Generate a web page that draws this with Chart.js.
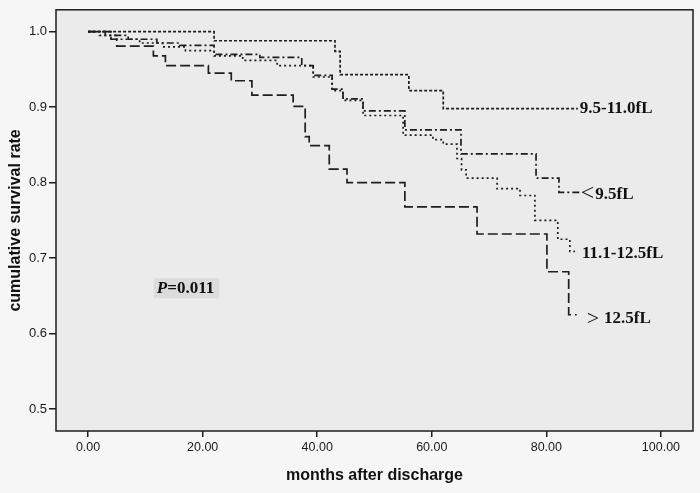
<!DOCTYPE html>
<html>
<head>
<meta charset="utf-8">
<script src="https://cdn.jsdelivr.net/npm/chart.js@4.4.1/dist/chart.umd.min.js"></script>
<style>
  html, body { margin: 0; padding: 0; background: #f6f6f6; }
  canvas { display: block; }
</style>
</head>
<body>
<canvas id="kmChart" width="700" height="493"></canvas>
<script>
/* ── Axis ticks ── */
const X_TICKS = [0, 20, 40, 60, 80, 100];
const Y_TICKS = [0.5, 0.6, 0.7, 0.8, 0.9, 1.0];

/* ── Groups (MCV) ── */
const GROUPS = ["9.5-11.0fL", "<9.5fL", "11.1-12.5fL", "> 12.5fL"];

/* ── Kaplan-Meier steps: months / cumulative survival ── */
const T_MID = [0, 22, 43.1, 44, 56, 62, 85.5];
const S_MID = [1.0, 0.988, 0.974, 0.943, 0.922, 0.898, 0.898];

const T_LOW = [0, 3, 7, 12, 16, 22, 30, 37.3, 39.3, 42.6, 44.5, 48, 55.3, 65.1, 78.2, 82.2, 86];
const S_LOW = [1.0, 0.995, 0.99, 0.985, 0.982, 0.97, 0.966, 0.955, 0.942, 0.924, 0.911, 0.895, 0.87, 0.838, 0.806, 0.787, 0.787];

const T_HIGH = [0, 2, 5, 9, 13, 17, 22, 27, 33, 39.3, 42.6, 44.5, 48, 55, 60.2, 62, 64.4, 65.2, 66, 71.4, 75.4, 78, 82, 84.1, 85];
const S_HIGH = [1.0, 0.995, 0.99, 0.985, 0.98, 0.975, 0.968, 0.962, 0.955, 0.94, 0.922, 0.909, 0.889, 0.863, 0.857, 0.851, 0.832, 0.817, 0.806, 0.792, 0.783, 0.75, 0.725, 0.709, 0.709];

const T_TOP = [0, 4, 5, 11.4, 13.5, 21, 25, 28.6, 35.8, 37.9, 38.6, 42.1, 45.2, 55.3, 67.9, 80.1, 83.9, 85.3];
const S_TOP = [1.0, 0.99, 0.981, 0.968, 0.955, 0.945, 0.935, 0.916, 0.901, 0.861, 0.849, 0.818, 0.8, 0.768, 0.732, 0.682, 0.625, 0.625];

const P_TEXT = "=0.011";

const INK = "#1e1e1e";
const SANS = "'Liberation Sans', Arial, sans-serif";
const SERIF = "'Liberation Serif', 'Times New Roman', serif";

const pts = (t, s) => t.map((v, i) => ({ x: v, y: s[i] }));

const series = [
  { t: T_MID, s: S_MID, dash: [3, 2] },
  { t: T_LOW, s: S_LOW, dash: [7, 3, 2, 3] },
  { t: T_HIGH, s: S_HIGH, dash: [2, 3] },
  { t: T_TOP, s: S_TOP, dash: [10, 4] },
];

/* ── Frame, curve labels, P value ── */
const kmDecor = {
  id: "kmDecor",
  beforeDraw(chart) {
    const { ctx, chartArea: a } = chart;
    ctx.save();
    ctx.fillStyle = "#f6f6f6";
    ctx.fillRect(0, 0, chart.width, chart.height);
    ctx.fillStyle = "#ebebeb";
    ctx.fillRect(a.left, a.top, a.right - a.left, a.bottom - a.top);
    ctx.restore();
  },
  afterDraw(chart) {
    const { ctx, chartArea: a, scales } = chart;
    const xs = scales.x, ys = scales.y;
    ctx.save();
    ctx.strokeStyle = INK;
    ctx.lineWidth = 1.5;
    ctx.strokeRect(a.left, a.top, a.right - a.left, a.bottom - a.top);

    ctx.fillStyle = "#111";
    ctx.textBaseline = "middle";
    ctx.textAlign = "left";
    const end = (k) => {
      const t = series[k].t, s = series[k].s;
      return { x: xs.getPixelForValue(t[t.length - 1]), y: ys.getPixelForValue(s[s.length - 1]) };
    };
    const BOLD = "bold 17px " + SERIF;

    // 9.5-11.0fL
    let e = end(0);
    ctx.font = BOLD;
    ctx.fillText(GROUPS[0], e.x + 2, e.y);

    // <9.5fL
    e = end(1);
    ctx.font = "24px " + SERIF;
    ctx.fillText(GROUPS[1].charAt(0), e.x, e.y + 1);
    let w = ctx.measureText(GROUPS[1].charAt(0)).width;
    ctx.font = BOLD;
    ctx.fillText(GROUPS[1].slice(1), e.x + w + 1, e.y + 2);

    // 11.1-12.5fL
    e = end(2);
    ctx.fillText(GROUPS[2], e.x + 7, e.y + 2);

    // > 12.5fL
    e = end(3);
    ctx.font = "22px " + SERIF;
    ctx.fillText(GROUPS[3].charAt(0), e.x + 10, e.y + 4);
    w = ctx.measureText(GROUPS[3].charAt(0)).width;
    ctx.font = BOLD;
    ctx.fillText(GROUPS[3].slice(2), e.x + 10 + w + 5, e.y + 4);

    // P value
    const px = xs.getPixelForValue(12), py = ys.getPixelForValue(0.66);
    ctx.font = "bold italic 17px " + SERIF;
    const wp = ctx.measureText("P").width;
    ctx.font = BOLD;
    const wr = ctx.measureText(P_TEXT).width;
    ctx.fillStyle = "#dcdcdc";
    ctx.fillRect(px - 3, py - 10, wp + wr + 8, 20);
    ctx.fillStyle = "#111";
    ctx.font = "bold italic 17px " + SERIF;
    ctx.fillText("P", px, py);
    ctx.font = BOLD;
    ctx.fillText(P_TEXT, px + wp, py);
    ctx.restore();
  },
};

const ctx = document.getElementById("kmChart").getContext("2d");
new Chart(ctx, {
  type: "line",
  data: {
    datasets: series.map((d, i) => ({
      label: GROUPS[i],
      data: pts(d.t, d.s),
      borderColor: INK,
      borderWidth: 1.7,
      borderDash: d.dash,
      stepped: true,
      pointRadius: 0,
      fill: false,
    })),
  },
  options: {
    responsive: false,
    animation: false,
    devicePixelRatio: 1,
    layout: { padding: { top: 7, right: 7, left: 0, bottom: 0 } },
    plugins: { legend: { display: false }, tooltip: { enabled: false } },
    scales: {
      x: {
        type: "linear",
        min: -5.6,
        max: 105.6,
        afterBuildTicks: (s) => { s.ticks = X_TICKS.map((v) => ({ value: v })); },
        afterFit: (s) => { s.height = 62; },
        grid: { drawOnChartArea: false, drawTicks: true, tickLength: 6, color: INK, lineWidth: 1.5 },
        border: { display: false },
        ticks: {
          padding: 3,
          color: "#1a1a1a",
          font: { family: SANS, size: 12.5 },
          maxRotation: 0,
          callback: (v) => Number(v).toFixed(2),
        },
        title: {
          display: true,
          text: "months after discharge",
          color: "#111",
          font: { family: SANS, size: 16, weight: "bold" },
          padding: { top: 0, bottom: 8 },
        },
      },
      y: {
        type: "linear",
        min: 0.471,
        max: 1.029,
        afterBuildTicks: (s) => { s.ticks = Y_TICKS.map((v) => ({ value: v })); },
        afterFit: (s) => { s.width = 56; },
        grid: { drawOnChartArea: false, drawTicks: true, tickLength: 7, color: INK, lineWidth: 1.5 },
        border: { display: false },
        ticks: {
          padding: 2,
          color: "#1a1a1a",
          font: { family: SANS, size: 13 },
          callback: (v) => Number(v).toFixed(1),
        },
        title: {
          display: true,
          text: "cumulative survival rate",
          color: "#111",
          font: { family: SANS, size: 16, weight: "bold" },
          padding: { top: 6, bottom: 0 },
        },
      },
    },
  },
  plugins: [kmDecor],
});
</script>
</body>
</html>
